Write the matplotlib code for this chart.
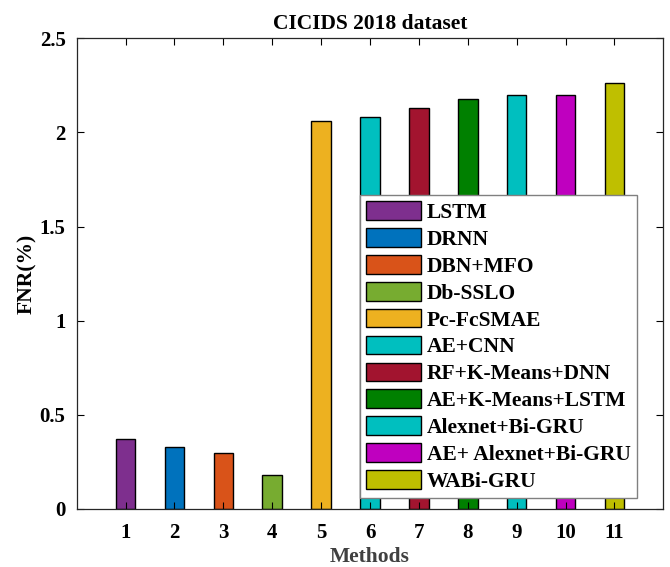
import matplotlib.pyplot as plt
import numpy as np

plt.rcParams['font.family'] = ['Liberation Serif', 'DejaVu Serif']
plt.rcParams['font.weight'] = 'bold'

# data
methods = ["LSTM", "DRNN", "DBN+MFO", "Db-SSLO", "Pc-FcSMAE", "AE+CNN",
           "RF+K-Means+DNN", "AE+K-Means+LSTM", "Alexnet+Bi-GRU",
           "AE+ Alexnet+Bi-GRU", "WABi-GRU"]
fnr = [0.37, 0.33, 0.30, 0.18, 2.06, 2.08, 2.13, 2.18, 2.20, 2.20, 2.265]
colors = ["#7E2F8E", "#0072BD", "#D95319", "#77AC30", "#EDB120", "#00BFBF",
          "#A2142F", "#008000", "#00BFBF", "#BF00BF", "#BFBF00"]
x = np.arange(1, len(fnr) + 1)

fig = plt.figure(figsize=(6.7, 5.67), dpi=100)
ax = fig.add_axes([0.1145, 0.1023, 0.8755, 0.8302])

for xi, v, c, m in zip(x, fnr, colors, methods):
    ax.bar(xi, v, width=0.4, color=c, edgecolor='black', linewidth=1.0, label=m)

ax.set_xlim(0, 12)
ax.set_ylim(0, 2.5)
ax.set_xticks(x)
ax.set_yticks([0, 0.5, 1, 1.5, 2, 2.5])
ax.set_yticklabels(["0", "0.5", "1", "1.5", "2", "2.5"])
ax.tick_params(direction='in', top=True, right=True, length=5, width=0.8,
               labelsize=15)
ax.tick_params(axis='x', pad=10)
ax.tick_params(axis='y', pad=8)
for s in ax.spines.values():
    s.set_linewidth(0.9)
    s.set_color('#262626')

ax.set_title("CICIDS 2018 dataset", fontsize=15.5, fontweight='bold', pad=7)
ax.set_xlabel("Methods", fontsize=15.5, fontweight='bold', labelpad=3, color='#404040')
ax.set_ylabel("FNR(%)", fontsize=15.5, fontweight='bold')
ax.yaxis.set_label_coords(-0.068, 0.5)

leg = ax.legend(loc='upper left', bbox_to_anchor=(360 / 670, 1 - 195 / 567),
                bbox_transform=fig.transFigure, fontsize=15.5, frameon=True,
                fancybox=False, borderaxespad=0, borderpad=0.3,
                handlelength=2.55, handleheight=0.95, labelspacing=0.24,
                handletextpad=0.25)
leg.get_frame().set_edgecolor('#808080')
leg.get_frame().set_linewidth(1.0)
leg.get_frame().set_alpha(1)

fig.savefig("out.png", dpi=100)
